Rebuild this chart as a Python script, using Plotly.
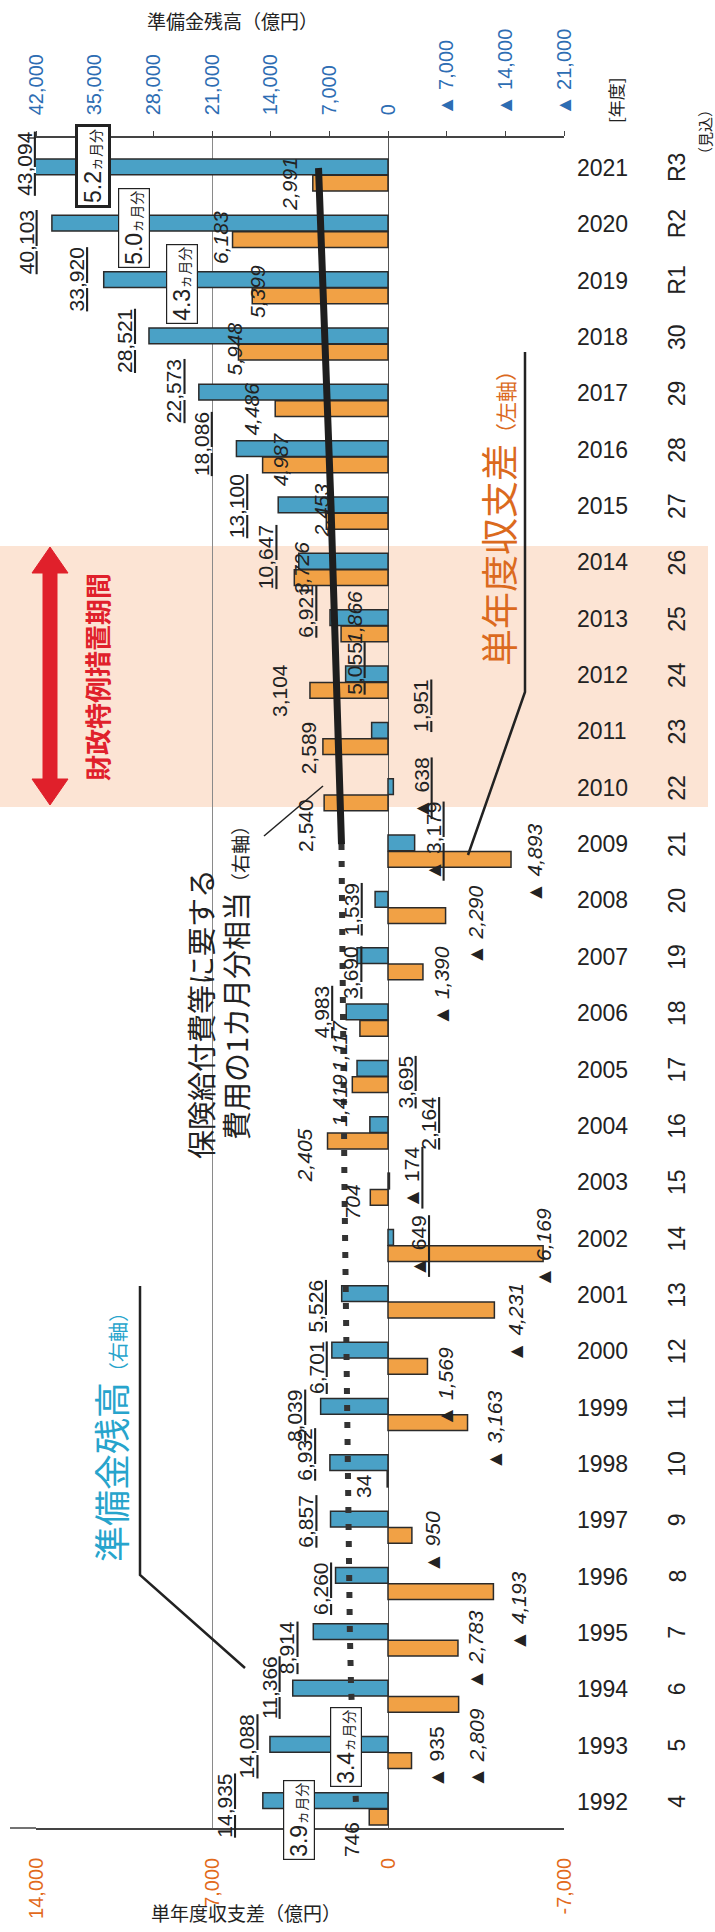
import plotly.graph_objects as go

# ---- data ---------------------------------------------------------------
YEARS = list(range(1992, 2022))
ERA_LABELS = [str(h) for h in range(4, 31)] + ["R1", "R2", "R3"]

# 準備金残高 (億円, right axis / top scale)
RESERVE = [14935, 14088, 11366, 8914, 6260, 6857, 6932, 8039, 6701, 5526,
           -649, -174, 2164, 3695, 4983, 3690, 1539, -3179, -638, 1951,
           5055, 6921, 10647, 13100, 18086, 22573, 28521, 33920, 40103, 43094]

# 単年度収支差 (億円, left axis / bottom scale)
BALANCE = [746, -935, -2809, -2783, -4193, -950, 34, -3163, -1569, -4231,
           -6169, 704, 2405, 1419, 1117, -1390, -2290, -4893, 2540, 2589,
           3104, 1866, 3726, 2453, 4987, 4486, 5948, 5399, 6183, 2991]

# 保険給付費等に要する費用の1カ月分相当 (億円, top scale)
MONTH_COST = [3830, 4140, 4400, 4550, 4650, 4750, 4850, 4950, 5050, 5100,
              5150, 5200, 5250, 5300, 5350, 5400, 5450, 5550, 5800, 6000,
              6200, 6400, 6600, 6800, 7050, 7250, 7550, 7890, 8020, 8290]

MONTHS_OF_RESERVE = {2021: "5.2", 2020: "5.0", 2019: "4.3", 1993: "3.4", 1992: "3.9"}
FISCAL_PERIOD = (2010, 2014)

BLUE_TICKS = [42000, 35000, 28000, 21000, 14000, 7000, 0, -7000, -14000, -21000]
BLUE_TICKTEXT = ["42,000", "35,000", "28,000", "21,000", "14,000", "7,000", "0",
                 "▲ 7,000", "▲ 14,000", "▲ 21,000"]
ORANGE_TICKS = [14000, 7000, 0, -7000]
ORANGE_TICKTEXT = ["14,000", "7,000", "0", "-7,000"]

# ---- styling / layout helpers ------------------------------------------
AZUL = "#4AA1C6"
NARANJA = "#F1A145"
BORDE = "#2B2B2B"
TEAL_TXT = "#27A4CC"
ORANGE_TXT = "#DB6A1E"
TICK_BLUE = "#2D6DB3"
TICK_ORANGE = "#E26A1C"
ROJO = "#E0202B"
PEACH = "#FCE4D4"
NEGRO = "#222222"
JP = "Noto Sans CJK JP"
LAT = "Liberation Sans, Noto Sans CJK JP"

L, R, T, B = 36, 564, 138, 1828
W, H = 715, 1932
Y_TOP_YEAR, ROW = 168, 56.34
BLUE_RANGE = [42000, -21000]
ORANGE_RANGE = [14000, -7000]


def px(xp):
    return (xp - L) / (R - L)


def yr(yp):
    return YEARS[-1] - (yp - Y_TOP_YEAR) / ROW


def fmt(v):
    return "▲ {:,}".format(-v) if v < 0 else "{:,}".format(v)


def anchor_x(v, rng, axis):
    """data anchor when inside the axis range, else the equivalent paper position"""
    hi, lo = rng
    if lo <= v <= hi:
        return v, axis
    return (hi - v) / (hi - lo), "paper"


# label offsets (pixels) relative to bar end / year row
BLUE_DX = [-38, -23, -24, -26, -15, -25, -25, -26, -16, -26, 25, 22, 59, 48, -25,
           -6, -24, 18, 28, 49, 8, -24, -33, -42, -35, -25, -25, -27, -26, -3]
BLUE_DY = [4, 1, -2, 15, 12, 1, -10, 8, 16, 11, 7, -5, -3, 13, -1,
           16, 9, -3, 0, -26, -7, -7, -5, 0, -6, -2, 4, -1, 18, -5]
ORANGE_DX = [-17, 25, 18, 18, 25, 20, -23, 27, 18, 21, 0, -18, -23, -13, -21,
             19, 30, 23, -18, -15, -31, 14, 7, -5, 18, -24, -4, 5, -12, -24]
ORANGE_DY = [38, 12, 59, 17, 35, 22, 22, 23, 36, 28, 10, 20, 30, 31, 33,
             29, 25, 20, 38, 16, 15, -1, 6, 4, 10, 16, 12, 11, 13, 16]
ORANGE_UPRIGHT = {1992, 1993, 1998, 2010, 2011, 2012}

fig = go.Figure()

fig.add_trace(go.Bar(
    y=YEARS, x=BALANCE, orientation="h", xaxis="x", yaxis="y",
    width=0.28, offset=-0.41,
    marker=dict(color=NARANJA, line=dict(color=BORDE, width=1.5)),
    name="単年度収支差", showlegend=False,
))
fig.add_trace(go.Bar(
    y=YEARS, x=RESERVE, orientation="h", xaxis="x2", yaxis="y",
    width=0.28, offset=-0.12,
    marker=dict(color=AZUL, line=dict(color=BORDE, width=1.5)),
    name="準備金残高", showlegend=False,
))
split = YEARS.index(2009)
fig.add_trace(go.Scatter(
    y=YEARS[:split + 1], x=MONTH_COST[:split + 1], xaxis="x2", yaxis="y",
    mode="lines", line=dict(color="#333333", width=6, dash="6px,11px"),
    showlegend=False, hoverinfo="skip",
))
fig.add_trace(go.Scatter(
    y=YEARS[split:], x=MONTH_COST[split:], xaxis="x2", yaxis="y",
    mode="lines", line=dict(color="#1E1E1E", width=7),
    showlegend=False, hoverinfo="skip",
))


def note(**kw):
    d = dict(showarrow=False, xanchor="center", yanchor="middle")
    d.update(kw)
    return d


ann = []
# value labels
for i, y in enumerate(YEARS):
    bx, bref = anchor_x(RESERVE[i], BLUE_RANGE, "x2")
    ann.append(note(
        x=bx, y=y, xref=bref, yref="y",
        text="<u>" + fmt(RESERVE[i]) + "</u>", textangle=-90,
        xshift=BLUE_DX[i], yshift=-BLUE_DY[i],
        font=dict(family=LAT, size=21, color=NEGRO),
    ))
    t = fmt(BALANCE[i])
    if y not in ORANGE_UPRIGHT:
        t = "<i>" + t + "</i>"
    ox, oref = anchor_x(BALANCE[i], ORANGE_RANGE, "x")
    ann.append(note(
        x=ox, y=y, xref=oref, yref="y",
        text=t, textangle=-90,
        xshift=ORANGE_DX[i], yshift=-ORANGE_DY[i],
        font=dict(family=LAT, size=21, color=NEGRO),
    ))
    ann.append(note(
        x=1, y=y, xref="paper", yref="y", text=ERA_LABELS[i],
        textangle=-90, xshift=113, font=dict(family=LAT, size=23, color=NEGRO),
    ))

# "ヵ月分" boxes
BOX_POS = {2021: (93, 166), 2020: (134, 228), 2019: (182, 284),
           1993: (346, 1747), 1992: (299, 1820)}
for yv, m in MONTHS_OF_RESERVE.items():
    bx, by = BOX_POS[yv]
    ann.append(note(
        x=px(bx), y=yr(by), xref="paper", yref="y",
        text=m + "<span style='font-size:14px'>ヵ月分</span>",
        textangle=-90,
        font=dict(family=LAT, size=23, color=NEGRO),
        bgcolor="white", bordercolor=NEGRO,
        borderwidth=3 if yv == 2021 else 1.2, borderpad=2,
    ))

# series captions
ann += [
    note(x=px(110), y=yr(1432), xref="paper", yref="y", textangle=-90,
         text="準備金残高<span style='font-size:20px'>（右軸）</span>",
         font=dict(family=JP, size=36, color=TEAL_TXT)),
    note(x=px(498), y=yr(513), xref="paper", yref="y", textangle=-90,
         text="単年度収支差<span style='font-size:21px'>（左軸）</span>",
         font=dict(family=JP, size=37, color=ORANGE_TXT)),
    note(x=px(200), y=yr(1014), xref="paper", yref="y", textangle=-90,
         text="保険給付費等に要する",
         font=dict(family=JP, size=29, color=NEGRO)),
    note(x=px(235), y=yr(978), xref="paper", yref="y", textangle=-90,
         text="費用の1カ月分相当<span style='font-size:19px'>（右軸）</span>",
         font=dict(family=JP, size=29, color=NEGRO)),
    note(x=px(96), y=yr(677), xref="paper", yref="y", textangle=-90,
         text="<b>財政特例措置期間</b>",
         font=dict(family=JP, size=26, color=ROJO)),
    note(x=px(232), y=1, xref="paper", yref="paper", yshift=118,
         text="準備金残高（億円）", font=dict(family=JP, size=19, color=NEGRO)),
    note(x=px(246), y=0, xref="paper", yref="paper", yshift=-84,
         text="単年度収支差（億円）", font=dict(family=JP, size=19, color=NEGRO)),
    note(x=1, y=1, xref="paper", yref="paper", xshift=51, yshift=38,
         textangle=-90, text="[年度]", font=dict(family=JP, size=17, color=NEGRO)),
    note(x=1, y=1, xref="paper", yref="paper", xshift=140, yshift=6,
         textangle=-90, text="（見込）", font=dict(family=JP, size=15, color=NEGRO)),
]

# shapes: shaded period, red double arrow, leader lines
shapes = [dict(type="rect", xref="paper", yref="y", x0=px(0), x1=px(708),
               y0=FISCAL_PERIOD[0] - 0.34, y1=FISCAL_PERIOD[1] + 0.29,
               fillcolor=PEACH, line_width=0, layer="below")]

xc, sw, hw = px(50), 7 / (R - L), 18 / (R - L)
hl = 26 / ROW
yt, yb = yr(547), yr(805)
pts = [(xc, yt), (xc + hw, yt - hl), (xc + sw, yt - hl), (xc + sw, yb + hl),
       (xc + hw, yb + hl), (xc, yb), (xc - hw, yb + hl), (xc - sw, yb + hl),
       (xc - sw, yt - hl), (xc - hw, yt - hl)]
shapes.append(dict(type="path", xref="paper", yref="y",
                   path="M " + " L ".join(f"{a},{b}" for a, b in pts) + " Z",
                   fillcolor=ROJO, line=dict(color=ROJO, width=1)))


def leader(points, w=2.5):
    return dict(type="path", xref="paper", yref="y",
                path="M " + " L ".join(f"{px(a)},{yr(b)}" for a, b in points),
                line=dict(color=NEGRO, width=w))


shapes += [
    leader([(140, 1286), (140, 1575), (245, 1668)]),
    leader([(525, 352), (525, 692), (468, 855)]),
    leader([(264, 836), (323, 786)], w=1.5),
    # frame lines run a little past the left edge
    dict(type="line", xref="paper", yref="paper", x0=px(10), x1=0, y0=0, y1=0,
         line=dict(color="#444444", width=1.5)),
    dict(type="line", xref="paper", yref="paper", x0=px(27), x1=0, y0=1, y1=1,
         line=dict(color="#444444", width=1.5)),
]

fig.update_layout(
    width=W, height=H, autosize=False,
    margin=dict(l=L, r=W - R, t=T, b=H - B, pad=0),
    paper_bgcolor="white", plot_bgcolor="rgba(0,0,0,0)",
    barmode="overlay", showlegend=False,
    font=dict(family=LAT, color=NEGRO),
    xaxis=dict(
        range=ORANGE_RANGE, tickvals=ORANGE_TICKS, ticktext=ORANGE_TICKTEXT,
        tickangle=-90, tickfont=dict(size=20, color=TICK_ORANGE),
        ticklabelstandoff=20,
        showgrid=True, gridcolor="#8A8A8A", gridwidth=1,
        zeroline=True, zerolinecolor="#555555", zerolinewidth=1.2,
        showline=True, linecolor="#444444", linewidth=1.5, ticks="",
    ),
    xaxis2=dict(
        range=BLUE_RANGE, overlaying="x", side="top", anchor="y",
        tickvals=BLUE_TICKS, ticktext=BLUE_TICKTEXT, tickangle=-90,
        tickfont=dict(size=20, color=TICK_BLUE), ticklabelstandoff=12,
        ticks="outside", ticklen=5, tickcolor="#444444",
        showgrid=False, zeroline=False,
        showline=True, linecolor="#444444", linewidth=1.5,
    ),
    yaxis=dict(
        range=[yr(B), yr(T)], side="right", tickvals=YEARS,
        ticktext=[str(y) for y in YEARS], tickfont=dict(size=23, color=NEGRO),
        ticklabelstandoff=12, ticks="", showgrid=False, zeroline=False,
        showline=False,
    ),
    annotations=ann,
    shapes=shapes,
)

# the page's default body margin would push the figure 8px right/down
fig.write_html("out.html", config={"displayModeBar": False},
               post_script="document.body.style.margin='0';")
